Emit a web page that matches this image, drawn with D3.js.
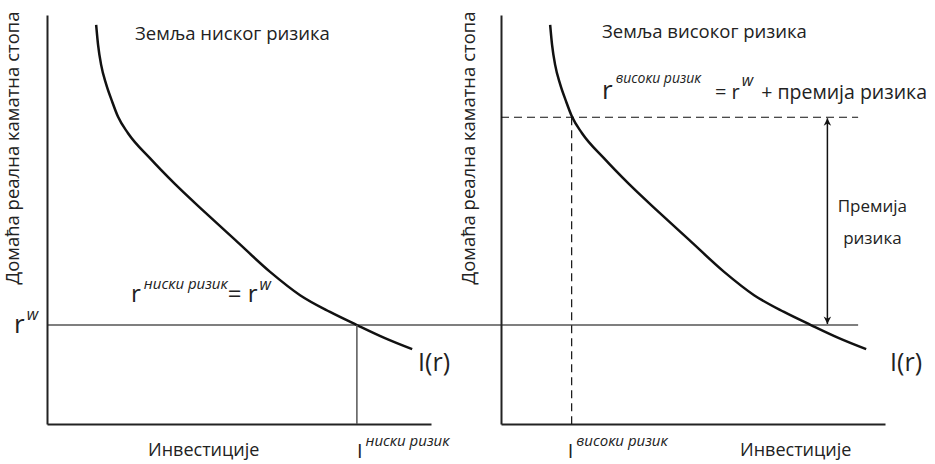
<!DOCTYPE html>
<html lang="sr">
<head>
  <meta charset="UTF-8" />
  <title>Ризик земље и инвестиције</title>
  <script src="https://cdnjs.cloudflare.com/ajax/libs/d3/7.8.5/d3.min.js"></script>
  <style>
    body { margin: 0; background: #fff; }
    svg { display: block; font-family: "Open Sans", sans-serif; }
    .lbl { fill: #222; }
    .sup { font-style: italic; }
  </style>
</head>
<body>
  <svg id="chart" width="935" height="464"></svg>

  <script>
    // investment curve I(r), same shape in both panels (x: investment, y: rate)
    const curveX = [1.28, 1.33, 1.41, 1.54, 1.69, 1.85, 2.11, 2.68, 3.33, 4.11, 4.90, 5.81, 6.59, 7.37, 8.07, 8.80, 9.51];
    const curveY = [9.76, 9.27, 8.78, 8.31, 7.90, 7.51, 7.11, 6.50, 5.87, 5.18, 4.50, 3.72, 3.15, 2.74, 2.42, 2.10, 1.83];

    const rWorld = 2.42;      // r^w
    const rHigh = 7.5;        // r^w + risk premium
    const iLow = 8.07;        // investment, low-risk country
    const iHigh = 1.84;       // investment, high-risk country
    const arrowX = 8.5;
    const lineEnd = 9.3;

    const panels = [
      { key: "low", left: 47, title: "Земља ниског ризика" },
      { key: "high", left: 501, title: "Земља високог ризика" }
    ];

    const yTitle = "Домаћа реална каматна стопа";
    const xTitle = "Инвестиције";

    const svg = d3.select("#chart");

    const x = d3.scaleLinear().domain([0, 10]).range([0, 384]);
    const y = d3.scaleLinear().domain([0, 10]).range([424, 15]);

    const points = curveX.map((v, i) => [v, curveY[i]]);
    const line = d3.line()
      .x(d => x(d[0]))
      .y(d => y(d[1]))
      .curve(d3.curveMonotoneX);

    // arrow markers
    const defs = svg.append("defs");
    ["start", "end"].forEach(k => {
      defs.append("marker")
        .attr("id", "arr-" + k)
        .attr("viewBox", "0 0 10 12")
        .attr("refX", k === "end" ? 10 : 0)
        .attr("refY", 6)
        .attr("markerWidth", 10)
        .attr("markerHeight", 9)
        .attr("markerUnits", "userSpaceOnUse")
        .attr("orient", "auto")
        .append("path")
        .attr("d", k === "end" ? "M0,1 L10,6 L0,11 L3,6 Z" : "M10,1 L0,6 L10,11 L7,6 Z")
        .attr("fill", "#111");
    });

    // world interest rate line runs through both panels
    svg.append("line")
      .attr("x1", panels[0].left + x(0))
      .attr("x2", panels[1].left + x(lineEnd))
      .attr("y1", y(rWorld))
      .attr("y2", y(rWorld))
      .attr("stroke", "#555")
      .attr("stroke-width", 1.5);

    panels.forEach(p => {
      const g = svg.append("g").attr("transform", `translate(${p.left},0)`);

      g.append("g")
        .call(d3.axisLeft(y).ticks(0).tickSizeOuter(0))
        .select(".domain").attr("stroke", "#222").attr("stroke-width", 2);
      g.append("g")
        .attr("transform", `translate(0,${y(0)})`)
        .call(d3.axisBottom(x).ticks(0).tickSizeOuter(0))
        .select(".domain").attr("stroke", "#222").attr("stroke-width", 2);

      g.append("path")
        .datum(points)
        .attr("d", line)
        .attr("fill", "none")
        .attr("stroke", "#111")
        .attr("stroke-width", 2.5);

      g.append("text")
        .attr("class", "lbl")
        .attr("transform", `translate(${p.key === "low" ? -28 : -26},${y(6.75)}) rotate(-90)`)
        .attr("text-anchor", "middle")
        .attr("font-size", 18.5)
        .text(yTitle);

      g.append("text")
        .attr("class", "lbl")
        .attr("x", p.key === "low" ? 88 : 101)
        .attr("y", p.key === "low" ? 40 : 38)
        .attr("font-size", 18.5)
        .text(p.title);

      g.append("text")
        .attr("class", "lbl")
        .attr("x", x(lineEnd) + 14 + (p.key === "high" ? 18 : 0))
        .attr("y", 371)
        .attr("font-size", 25)
        .text("I(r)");

      g.append("text")
        .attr("class", "lbl")
        .attr("x", p.key === "low" ? 101 : 239)
        .attr("y", 456)
        .attr("font-size", 18)
        .text(xTitle);
    });

    const gL = svg.append("g").attr("transform", `translate(${panels[0].left},0)`);
    const gR = svg.append("g").attr("transform", `translate(${panels[1].left},0)`);

    // left panel extras
    gL.append("line")
      .attr("x1", x(iLow)).attr("x2", x(iLow))
      .attr("y1", y(rWorld)).attr("y2", y(0))
      .attr("stroke", "#555").attr("stroke-width", 1.5);

    const rwL = svg.append("text").attr("class", "lbl").attr("x", 14).attr("y", y(rWorld) + 8).attr("font-size", 26);
    rwL.append("tspan").text("r");
    rwL.append("tspan").attr("class", "sup").attr("font-size", 16).attr("dx", 2).attr("dy", -13).text("w");

    const fL = gL.append("text").attr("class", "lbl").attr("x", 84).attr("y", 302).attr("font-size", 24);
    fL.append("tspan").text("r");
    fL.append("tspan").attr("class", "sup").attr("font-size", 15).attr("dx", 3).attr("dy", -13).text("ниски ризик");
    fL.append("tspan").attr("dy", 13).text("= r");
    fL.append("tspan").attr("class", "sup").attr("font-size", 16).attr("dx", 2).attr("dy", -12).text("w");

    const iL = gL.append("text").attr("class", "lbl").attr("x", x(iLow)).attr("y", 458).attr("font-size", 20);
    iL.append("tspan").text("I");
    iL.append("tspan").attr("class", "sup").attr("font-size", 15).attr("dx", 3).attr("dy", -12).text("ниски ризик");

    // right panel extras
    gR.append("line")
      .attr("x1", x(0)).attr("x2", x(lineEnd))
      .attr("y1", y(rHigh)).attr("y2", y(rHigh))
      .attr("stroke", "#111").attr("stroke-width", 1.2)
      .attr("stroke-dasharray", "8,5");
    gR.append("line")
      .attr("x1", x(iHigh)).attr("x2", x(iHigh))
      .attr("y1", y(rHigh)).attr("y2", y(0))
      .attr("stroke", "#111").attr("stroke-width", 1.2)
      .attr("stroke-dasharray", "8,5");

    gR.append("line")
      .attr("x1", x(arrowX)).attr("x2", x(arrowX))
      .attr("y1", y(rHigh) + 1).attr("y2", y(rWorld) - 1)
      .attr("stroke", "#111").attr("stroke-width", 1.5)
      .attr("marker-start", "url(#arr-start)")
      .attr("marker-end", "url(#arr-end)");

    const prem = gR.append("text").attr("class", "lbl").attr("text-anchor", "middle").attr("font-size", 17);
    prem.append("tspan").attr("x", x(arrowX) + 45).attr("y", 212).text("Премија");
    prem.append("tspan").attr("x", x(arrowX) + 45).attr("y", 244).text("ризика");

    const fR = gR.append("text").attr("class", "lbl").attr("x", 101).attr("y", 99).attr("font-size", 26);
    fR.append("tspan").text("r");
    fR.append("tspan").attr("class", "sup").attr("font-size", 14).attr("dx", 3).attr("dy", -16).text("високи ризик");
    fR.append("tspan").attr("font-size", 20).attr("dx", 14).attr("dy", 16).text("= r");
    fR.append("tspan").attr("class", "sup").attr("font-size", 16).attr("dx", 2).attr("dy", -13).text("w");
    fR.append("tspan").attr("font-size", 19.5).attr("dx", 8).attr("dy", 13).text("+ премија ризика");

    const iR = gR.append("text").attr("class", "lbl").attr("x", x(iHigh) - 4).attr("y", 458).attr("font-size", 20);
    iR.append("tspan").text("I");
    iR.append("tspan").attr("class", "sup").attr("font-size", 15).attr("dx", 3).attr("dy", -12).text("високи ризик");
  </script>
</body>
</html>
